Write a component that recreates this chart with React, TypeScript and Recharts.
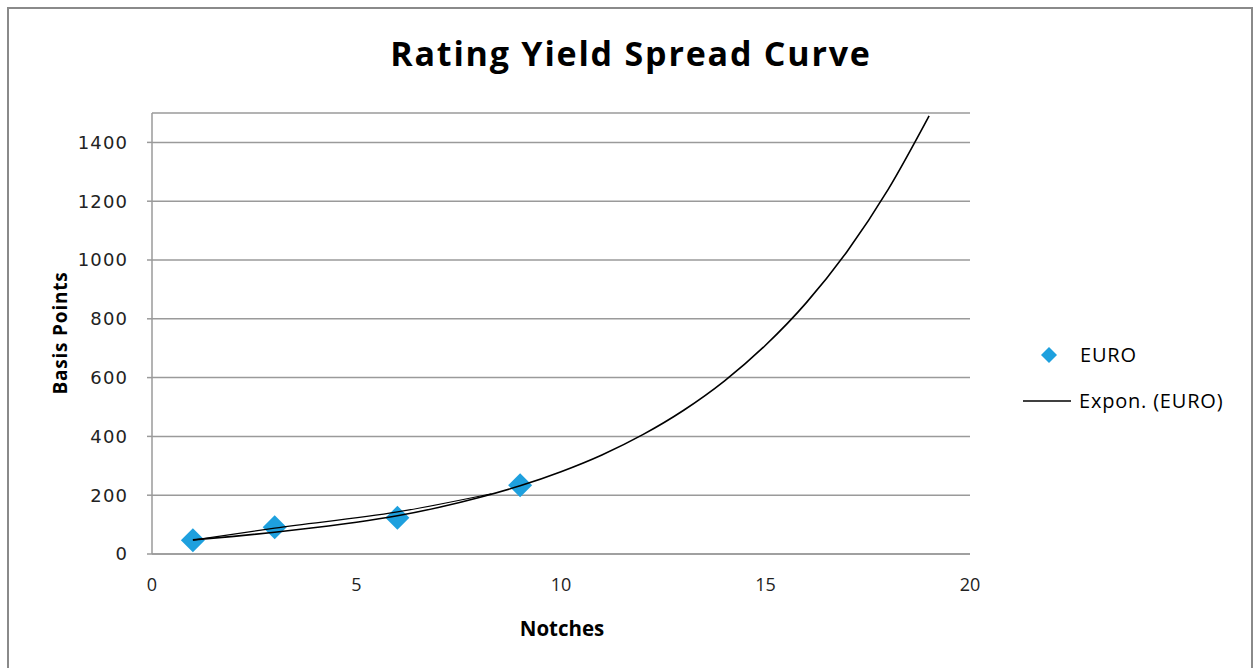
import { CartesianGrid, Scatter, ScatterChart, XAxis, YAxis } from "recharts";

// EURO observations (notch -> spread in bp)
const notches = [1, 3, 6, 9];
const euroSpread = [47, 91, 123, 234];

// exponential trendline
const trendNotches = [1, 2, 3, 4, 5, 6, 7, 8, 9, 10, 11, 12, 13, 14, 15, 16, 17, 18, 19];
const trendSpread = [48, 60, 74, 90, 108, 130, 158, 192, 232, 280, 337, 406, 489, 589, 710, 855, 1030, 1240, 1490];

// second faint black line drawn next to the points
const bendNotches = [1, 3, 6, 8.3];
const bendSpread = [47, 88, 143, 205];

const xTicks = [0, 5, 10, 15, 20];
const yTicks = [0, 200, 400, 600, 800, 1000, 1200, 1400];

const euro = notches.map((x, i) => ({ x, y: euroSpread[i] }));
const trend = trendNotches.map((x, i) => ({ x, y: trendSpread[i] }));
const bend = bendNotches.map((x, i) => ({ x, y: bendSpread[i] }));

const BLUE = "#1ea0de";
const GRID = "#9a9a9a";
const FONT = "'Open Sans', 'Noto Sans', sans-serif";

function Diamond(props: any) {
  const { cx, cy } = props;
  const r = 12;
  return (
    <polygon
      points={`${cx},${cy - r} ${cx + r},${cy} ${cx},${cy + r} ${cx - r},${cy}`}
      fill={BLUE}
    />
  );
}

const NoDot = () => <g />;

export default function App() {
  return (
    <div style={{ position: "absolute", left: 0, top: 0, width: 1255, height: 668, background: "#fff", overflow: "hidden", fontFamily: FONT }}>
      <div style={{ position: "absolute", left: 7, top: 7, width: 1246, height: 700, border: "2px solid #8a8a8a", boxSizing: "border-box" }} />

      <div style={{ position: "absolute", left: 0, width: 1262, top: 30, textAlign: "center", fontSize: 34, fontWeight: 700, letterSpacing: 1.8, color: "#000" }}>
        Rating Yield Spread Curve
      </div>

      <ScatterChart width={1255} height={668} margin={{ top: 113, right: 285, bottom: 74, left: 72 }}>
        <CartesianGrid vertical={false} stroke={GRID} strokeWidth={1.5} />
        <XAxis
          type="number"
          dataKey="x"
          domain={[0, 20]}
          ticks={xTicks}
          height={40}
          tickLine={false}
          tickSize={0}
          tickMargin={24}
          axisLine={{ stroke: GRID, strokeWidth: 1.5 }}
          tick={{ fill: "#222", fontSize: 18, fontFamily: FONT }}
        />
        <YAxis
          type="number"
          dataKey="y"
          domain={[0, 1500]}
          ticks={yTicks}
          width={80}
          tickSize={5}
          tickMargin={19}
          axisLine={{ stroke: GRID, strokeWidth: 1.5 }}
          tickLine={{ stroke: GRID, strokeWidth: 1.5 }}
          tick={{ fill: "#222", fontSize: 18, letterSpacing: 1.1, fontFamily: "'DejaVu Sans', sans-serif" }}
        />
        <Scatter data={euro} shape={Diamond} isAnimationActive={false} />
        <Scatter
          data={bend}
          shape={NoDot}
          line={{ stroke: "#000", strokeWidth: 1.2 }}
          lineJointType="monotoneX"
          isAnimationActive={false}
        />
        <Scatter
          data={trend}
          shape={NoDot}
          line={{ stroke: "#000", strokeWidth: 1.6 }}
          lineJointType="monotoneX"
          isAnimationActive={false}
        />
      </ScatterChart>

      <div
        style={{
          position: "absolute",
          left: 60,
          top: 333,
          transform: "translate(-50%, -50%) rotate(-90deg)",
          fontSize: 19,
          fontWeight: 700,
          letterSpacing: 0.8,
          whiteSpace: "nowrap",
          color: "#000",
        }}
      >
        Basis Points
      </div>
      <div
        style={{
          position: "absolute",
          left: 562,
          top: 628,
          transform: "translate(-50%, -50%)",
          fontSize: 20.5,
          fontWeight: 700,
          color: "#000",
        }}
      >
        Notches
      </div>

      <svg style={{ position: "absolute", left: 1015, top: 340 }} width={240} height={80}>
        <polygon points="34,7 42,15 34,23 26,15" fill={BLUE} />
        <text x={65} y={22} fontSize={20} letterSpacing={0.8} fontFamily={FONT} fill="#000">EURO</text>
        <line x1={8} x2={56} y1={61} y2={61} stroke="#000" strokeWidth={1.6} />
        <text x={64} y={68} fontSize={20} letterSpacing={0.8} fontFamily={FONT} fill="#000">Expon. (EURO)</text>
      </svg>
    </div>
  );
}
